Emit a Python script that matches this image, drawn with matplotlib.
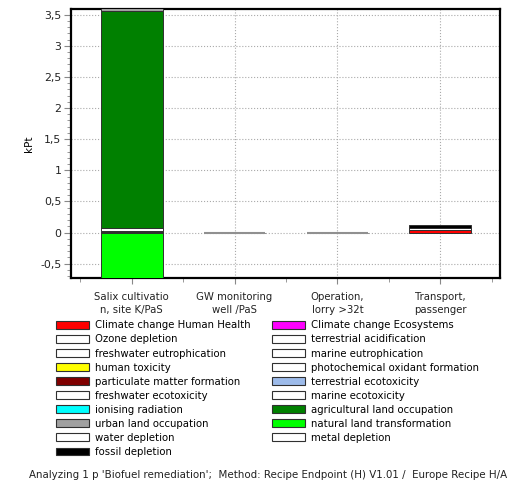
import numpy as np
import matplotlib.pyplot as plt
from matplotlib.patches import Patch
from matplotlib.ticker import FuncFormatter, MultipleLocator

processes = ['Salix cultivatio\nn, site K/PaS', 'GW monitoring\nwell /PaS',
             'Operation,\nlorry >32t', 'Transport,\npassenger']

impacts = ['Climate change Human Health', 'Climate change Ecosystems',
           'Ozone depletion', 'terrestrial acidification',
           'freshwater eutrophication', 'marine eutrophication',
           'human toxicity', 'photochemical oxidant formation',
           'particulate matter formation', 'terrestrial ecotoxicity',
           'freshwater ecotoxicity', 'marine ecotoxicity',
           'ionising radiation', 'agricultural land occupation',
           'urban land occupation', 'natural land transformation',
           'water depletion', 'metal depletion', 'fossil depletion']

colors = ['#ff0000', '#ff00ff', '#ffffff', '#ffffff', '#ffffff', '#ffffff',
          '#ffff00', '#ffffff', '#800000', '#9dbbea', '#ffffff', '#ffffff',
          '#00ffff', '#008000', '#a0a0a0', '#00ff00', '#ffffff', '#ffffff',
          '#000000']

# kPt per process, one row per impact category
scores = np.array([
    [0.012, 0.0004, 0.0004, 0.048],   # climate change HH
    [0.0, 0.0, 0.0, 0.0],             # climate change eco
    [0.0, 0.0, 0.0, 0.0],             # ozone
    [0.0, 0.0, 0.0, 0.03],            # terr. acidification
    [0.0, 0.0, 0.0, 0.0],             # fw eutrophication
    [0.0, 0.0, 0.0, 0.0],             # marine eutrophication
    [0.0, 0.0, 0.0, 0.0],             # human toxicity
    [0.0, 0.0, 0.0, 0.0],             # photochemical
    [0.01, 0.0, 0.0, 0.0],            # particulate matter
    [0.0, 0.0, 0.0, 0.0],             # terr. ecotoxicity
    [0.045, 0.0, 0.0, 0.0],           # fw ecotoxicity
    [0.0, 0.0, 0.0, 0.0],             # marine ecotoxicity
    [0.006, 0.0, 0.0, 0.0],           # ionising radiation
    [3.48, 0.0, 0.0, 0.0],            # agricultural land occupation
    [0.05, 0.0, 0.0, 0.0],            # urban land occupation
    [-0.9, 0.0, 0.0, 0.0],            # natural land transformation
    [0.0, 0.0, 0.0, 0.0],             # water depletion
    [0.0, 0.0, 0.0, 0.0],             # metal depletion
    [0.0, 0.0, 0.0, 0.05],            # fossil depletion
])

plt.rcParams['font.family'] = ['DejaVu Sans']

fig = plt.figure(figsize=(5.12, 4.84), dpi=100)
ax = fig.add_axes([0.1387, 0.4256, 0.8379, 0.5558])

x = np.arange(len(processes))
pos = np.zeros(len(processes))
neg = np.zeros(len(processes))
for vals, col in zip(scores, colors):
    base = np.where(vals >= 0, pos, neg)
    nz = vals != 0
    ax.bar(x[nz], vals[nz], 0.6, bottom=base[nz], color=col,
           edgecolor='#303030', linewidth=0.7, zorder=3)
    pos += np.clip(vals, 0, None)
    neg += np.clip(vals, None, 0)

# near-zero processes show as a flat grey line
for i in [1, 2]:
    ax.hlines(0, x[i] - 0.3, x[i] + 0.3, color='#909090', lw=1.5, zorder=4)

ax.set_xlim(-0.59, 3.58)
ax.set_ylim(-0.73, 3.59)
ax.set_xticks(x)
ax.set_xticklabels(processes, fontsize=7.3, color='#222222', linespacing=1.35)
ax.xaxis.set_minor_locator(MultipleLocator(0.5))
ax.yaxis.set_major_locator(MultipleLocator(0.5))
ax.yaxis.set_minor_locator(MultipleLocator(0.1))
ax.yaxis.set_major_formatter(FuncFormatter(lambda v, p: ('%g' % v).replace('.', ',')))
ax.tick_params(axis='y', labelsize=7.8, length=5, pad=2)
ax.tick_params(axis='x', length=4, pad=6)
ax.tick_params(which='minor', length=3)
ax.tick_params(which='both', colors='#888888', labelcolor='#222222')
ax.set_ylabel('kPt', fontsize=7.5, labelpad=4)
ax.grid(True, which='major', linestyle=':', color='#aaaaaa', linewidth=0.8, zorder=0)
for s in ax.spines.values():
    s.set_linewidth(1.6)
    s.set_color('black')

handles = [Patch(facecolor=c, edgecolor='#303030', linewidth=0.8, label=l)
           for l, c in zip(impacts, colors)]
order = handles[0::2] + handles[1::2]
fig.legend(handles=order, ncol=2, loc='upper left', bbox_to_anchor=(0.109, 0.338),
           frameon=False, fontsize=7.3, handlelength=3.3, handleheight=0.8,
           handletextpad=0.55, labelspacing=0.4, columnspacing=2.1,
           borderaxespad=0, borderpad=0)

fig.text(0.057, 0.013, "Analyzing 1 p 'Biofuel remediation';  Method: Recipe Endpoint (H) V1.01 /  Europe Recipe H/A",
         fontsize=7.35, color='#222222')

fig.savefig('out.png', dpi=100)
